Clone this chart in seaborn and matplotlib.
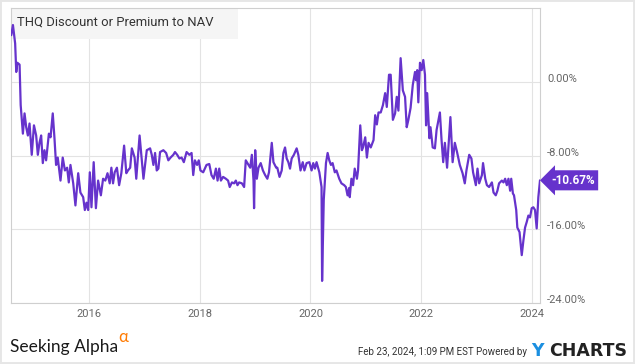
import matplotlib

matplotlib.use("Agg")
import matplotlib.pyplot as plt
import matplotlib.transforms as mtransforms
import seaborn as sns
from matplotlib import font_manager
from matplotlib.patches import Rectangle

# Values (decimal year, premium/discount in %)
years = [
    2014.59, 2014.62, 2014.66, 2014.68, 2014.70, 2014.74, 2014.76, 2014.80, 2014.83, 2014.86,
    2014.89, 2014.92, 2014.96, 2015.00, 2015.04, 2015.07, 2015.10, 2015.13, 2015.16, 2015.19,
    2015.22, 2015.27, 2015.30, 2015.34, 2015.37, 2015.40, 2015.43, 2015.48, 2015.52, 2015.56,
    2015.60, 2015.63, 2015.66, 2015.71, 2015.75, 2015.80, 2015.84, 2015.89, 2015.92, 2015.95,
    2015.98, 2016.01, 2016.04, 2016.08, 2016.12, 2016.16, 2016.21, 2016.25, 2016.29, 2016.33,
    2016.37, 2016.40, 2016.43, 2016.46, 2016.50, 2016.54, 2016.58, 2016.63, 2016.67, 2016.70,
    2016.74, 2016.77, 2016.82, 2016.85, 2016.91, 2016.98, 2017.04, 2017.10, 2017.13, 2017.16,
    2017.19, 2017.22, 2017.25, 2017.28, 2017.34, 2017.39, 2017.43, 2017.47, 2017.52, 2017.55,
    2017.59, 2017.63, 2017.67, 2017.71, 2017.76, 2017.81, 2017.85, 2017.88, 2017.91, 2017.95,
    2017.98, 2018.01, 2018.06, 2018.12, 2018.17, 2018.21, 2018.25, 2018.29, 2018.32, 2018.35,
    2018.38, 2018.42, 2018.47, 2018.51, 2018.54, 2018.58, 2018.62, 2018.65, 2018.68, 2018.71,
    2018.76, 2018.80, 2018.83, 2018.88, 2018.91, 2018.94, 2018.97, 2018.98, 2019.00, 2019.03,
    2019.06, 2019.10, 2019.14, 2019.18, 2019.22, 2019.25, 2019.30, 2019.33, 2019.38, 2019.40,
    2019.44, 2019.48, 2019.51, 2019.54, 2019.57, 2019.60, 2019.63, 2019.66, 2019.70, 2019.75,
    2019.78, 2019.82, 2019.86, 2019.89, 2019.93, 2019.98, 2020.02, 2020.05, 2020.08, 2020.11,
    2020.16, 2020.20, 2020.21, 2020.24, 2020.28, 2020.31, 2020.34, 2020.37, 2020.40, 2020.44,
    2020.47, 2020.52, 2020.56, 2020.61, 2020.64, 2020.67, 2020.70, 2020.71, 2020.74, 2020.77,
    2020.80, 2020.84, 2020.86, 2020.90, 2020.93, 2020.95, 2020.99, 2021.02, 2021.05, 2021.09,
    2021.14, 2021.17, 2021.20, 2021.23, 2021.27, 2021.31, 2021.35, 2021.38, 2021.42, 2021.45,
    2021.49, 2021.53, 2021.56, 2021.59, 2021.63, 2021.67, 2021.71, 2021.74, 2021.77, 2021.81,
    2021.85, 2021.89, 2021.91, 2021.93, 2021.95, 2021.98, 2022.01, 2022.04, 2022.07, 2022.09,
    2022.11, 2022.15, 2022.17, 2022.21, 2022.25, 2022.28, 2022.34, 2022.37, 2022.40, 2022.43,
    2022.47, 2022.53, 2022.57, 2022.61, 2022.65, 2022.70, 2022.75, 2022.79, 2022.82, 2022.87,
    2022.91, 2022.94, 2022.99, 2023.02, 2023.05, 2023.10, 2023.12, 2023.16, 2023.19, 2023.23,
    2023.28, 2023.31, 2023.35, 2023.38, 2023.41, 2023.46, 2023.49, 2023.52, 2023.55, 2023.58,
    2023.61, 2023.63, 2023.66, 2023.68, 2023.72, 2023.74, 2023.78, 2023.80, 2023.82, 2023.85,
    2023.88, 2023.91, 2023.94, 2023.97, 2024.00, 2024.03, 2024.06, 2024.09, 2024.12, 2024.15,
]
values = [
    5.1, 6.2, 4.2, 1.1, 2.1, 1.9, -2.5, -5.6, -3.4, -4.9,
    -5.8, -4.5, -7.9, -4.7, -5.8, -7.9, -6.6, -5.8, -8.8, -7.4,
    -8.5, -5.6, -6.0, -3.4, -6.0, -9.0, -8.2, -10.7, -8.2, -9.6,
    -9.3, -10.9, -9.0, -11.0, -13.4, -9.9, -12.0, -12.5, -13.9, -13.1,
    -13.9, -9.8, -13.6, -8.7, -13.7, -10.7, -12.3, -10.5, -10.7, -9.9,
    -11.0, -9.3, -11.0, -9.8, -9.3, -11.2, -9.9, -6.9, -9.9, -9.6,
    -9.3, -7.2, -8.2, -10.5, -5.8, -10.5, -7.4, -7.2, -7.9, -9.0,
    -7.7, -9.6, -9.4, -7.6, -7.4, -7.7, -8.5, -8.2, -7.9, -7.6,
    -7.9, -8.3, -8.2, -8.7, -7.6, -7.9, -7.7, -10.1, -8.5, -9.0,
    -8.5, -9.6, -9.8, -9.0, -8.9, -10.1, -10.5, -9.4, -10.7, -9.4,
    -10.7, -10.3, -10.5, -10.7, -11.4, -10.9, -11.0, -10.7, -11.2, -10.9,
    -11.0, -11.4, -8.5, -9.0, -9.3, -7.9, -10.7, -13.7, -7.4, -10.5,
    -9.3, -8.8, -9.6, -10.1, -10.5, -9.8, -6.6, -8.7, -9.3, -9.3,
    -10.3, -9.6, -7.7, -7.1, -8.3, -8.7, -9.4, -8.3, -7.9, -7.2,
    -7.9, -9.6, -8.7, -9.6, -8.8, -8.7, -9.6, -8.8, -9.4, -8.7,
    -9.8, -11.4, -21.6, -12.8, -8.8, -7.7, -8.5, -9.0, -8.8, -9.8,
    -9.6, -10.5, -11.0, -11.2, -11.4, -12.3, -11.5, -12.5, -10.5, -11.2,
    -9.4, -10.5, -9.6, -4.7, -7.4, -7.1, -6.0, -8.2, -6.6, -7.1,
    -6.3, -3.6, -4.6, -3.3, -3.3, -2.5, -1.2, -2.7, 0.8, 0.8,
    -4.1, -3.4, -1.6, -3.1, 2.6, -0.9, -1.6, -4.9, -4.1, -2.8,
    -0.3, 1.1, 0.2, 1.3, -2.2, 2.1, 1.3, 2.4, 0.8, -4.7,
    -1.2, -6.1, -4.9, -7.1, -7.2, -5.2, -3.3, -6.3, -8.7, -6.6,
    -9.3, -3.8, -8.7, -6.6, -7.6, -9.0, -9.9, -11.0, -9.6, -7.9,
    -8.3, -9.8, -11.2, -9.4, -11.0, -10.1, -8.8, -10.5, -11.2, -11.4,
    -10.9, -12.0, -12.3, -11.8, -11.0, -10.7, -10.9, -10.5, -11.2, -10.5,
    -11.8, -10.5, -12.1, -12.3, -13.9, -15.8, -16.3, -17.5, -18.8, -17.2,
    -15.8, -15.2, -14.5, -14.7, -13.7, -13.6, -13.9, -15.9, -12.5, -10.67,
]
x_ticks = [2016, 2018, 2020, 2022, 2024]
y_ticks = [-24, -16, -8, 0]
title = "THQ Discount or Premium to NAV"
footer_date = "Feb 23, 2024, 1:09 PM EST Powered by"

LINE_COLOR = "#6633cc"

sns.set_style("white")
plt.rcParams["font.family"] = ["Roboto", "DejaVu Sans"]

installed = {f.name for f in font_manager.fontManager.ttflist}
narrow = "Liberation Sans Narrow" if "Liberation Sans Narrow" in installed else "Roboto"
narrow_size = 8.2 if narrow != "Roboto" else 7.0

W, H = 635, 364
fig = plt.figure(figsize=(W / 100, H / 100), dpi=100)
ax = fig.add_axes([11 / W, 1 - 303 / H, 529 / W, 295 / H])

sns.lineplot(
    x=years, y=values, ax=ax, color=LINE_COLOR, linewidth=1.6,
    estimator=None, sort=False, zorder=3,
)

ax.set_xlim(2014.585, 2024.15)
ax.set_ylim(-24, 8.05)
ax.set_xticks(x_ticks)
ax.set_xticklabels([str(t) for t in x_ticks])
ax.set_yticks(y_ticks)
ax.set_yticklabels([f"{t:.2f}%" for t in y_ticks])
ax.yaxis.tick_right()
ax.tick_params(length=0, labelsize=8, labelcolor="#666666")
ax.tick_params(axis="x", pad=4.5)
ax.tick_params(axis="y", pad=5.2)
for lbl in ax.get_yticklabels():
    lbl.set_verticalalignment("baseline")
ax.set_xlabel("")
ax.set_ylabel("")
ax.grid(True, color="#e3e3e3", linewidth=0.8)
ax.set_axisbelow(True)
for spine in ax.spines.values():
    spine.set_color("#cfcfcf")
    spine.set_linewidth(0.8)

# title box in the top-left corner
ax.add_patch(Rectangle((0, 0.894), 0.4286, 0.106, transform=ax.transAxes,
                       facecolor="#f5f5f5", edgecolor="none", zorder=2))
ax.text(0.0119, 0.9536, title, transform=ax.transAxes, ha="left", va="center",
        fontsize=9.4, color="#333333", zorder=4)

# last value callout
blend = mtransforms.blended_transform_factory(ax.transAxes, ax.transData)
ax.text(1.0208, values[-1], f"{values[-1]:.2f}%", transform=blend, ha="left", va="center",
        color="white", fontsize=8.5, fontweight="bold", clip_on=False,
        bbox=dict(boxstyle="larrow,pad=0.3", facecolor=LINE_COLOR, edgecolor="none"))

# footer
fig.text(10 / W, 1 - 347 / H, "Seeking Alpha", family=["Lato", "DejaVu Sans"],
         fontsize=12.5, color="#1a1a1a", ha="left", va="center")
fig.text(118 / W, 1 - 337 / H, "\u03b1", family=["Lato", "DejaVu Sans"],
         fontsize=12, color="#ff7a00", ha="left", va="center")
fig.text(527 / W, 1 - 352 / H, footer_date, family=[narrow, "DejaVu Sans"],
         fontsize=narrow_size, color="#333333", ha="right", va="center")
fig.text(531 / W, 1 - 351 / H, "Y", family="DejaVu Sans", fontweight="bold",
         fontsize=12.5, color="#1b8fe0", ha="left", va="center")
fig.text(627 / W, 1 - 351 / H, "CHARTS", family="DejaVu Sans", fontweight="bold",
         fontsize=12.5, color="#222222", ha="right", va="center")

# thin light frame around the whole image
fig.patches.append(Rectangle((0, 0), 1, 1, transform=fig.transFigure, fill=False,
                             edgecolor="#e6e6e6", linewidth=2.8))

fig.savefig("out.png", dpi=100)
